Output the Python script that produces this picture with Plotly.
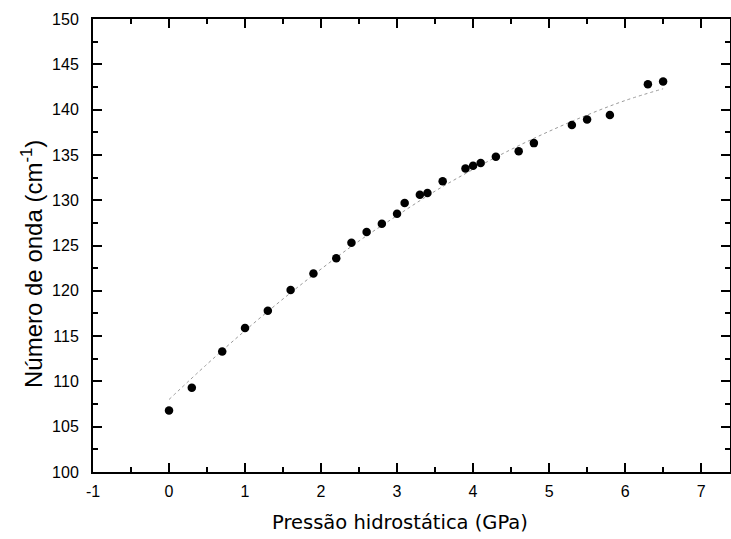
import numpy as np
import plotly.graph_objects as go

pressure = [0.0, 0.3, 0.7, 1.0, 1.3, 1.6, 1.9, 2.2, 2.4, 2.6, 2.8, 3.0, 3.1, 3.3, 3.4,
            3.6, 3.9, 4.0, 4.1, 4.3, 4.6, 4.8, 5.3, 5.5, 5.8, 6.3, 6.5]
wavenumber = [106.8, 109.3, 113.3, 115.9, 117.8, 120.1, 121.9, 123.6, 125.3, 126.5, 127.4,
              128.5, 129.7, 130.6, 130.8, 132.1, 133.5, 133.8, 134.1, 134.8, 135.4, 136.3,
              138.3, 138.9, 139.4, 142.8, 143.1]

# dotted fit curve
fit_x = [0.0, 0.5, 1.0, 1.5, 2.0, 2.5, 3.0, 3.5, 4.0, 4.5, 5.0, 5.5, 6.0, 6.5]
fit_y = [108.0, 111.9, 115.6, 119.1, 122.4, 125.5, 128.3, 131.0, 133.4, 135.6, 137.6,
         139.4, 141.0, 142.3]

x_ticks = [-1, 0, 1, 2, 3, 4, 5, 6, 7]
x_labels = ["-1", "0", "1", "2", "3", "4", "5", "6", "7"]

fig = go.Figure()
fig.add_trace(go.Scatter(x=fit_x, y=fit_y, mode="lines", line_shape="spline",
                         line=dict(color="#9a9a9a", width=1, dash="dot"), hoverinfo="skip"))
fig.add_trace(go.Scatter(x=pressure, y=wavenumber, mode="markers",
                         marker=dict(color="black", size=8.5)))

axis_common = dict(showgrid=False, zeroline=False, showline=True, linecolor="black",
                   linewidth=2, mirror="ticks", ticks="inside", ticklen=9, tickwidth=1.5,
                   tickcolor="black", automargin=False,
                   tickfont=dict(family="Liberation Sans, Arial", size=16, color="black"))

fig.update_xaxes(range=[-1, 7.38], tickmode="array", tickvals=x_ticks, ticktext=x_labels,
                 minor=dict(ticks="inside", dtick=0.5, tick0=-1, ticklen=5, tickwidth=1.5,
                            tickcolor="black"),
                 ticklabelstandoff=4, **axis_common)
fig.update_yaxes(range=[100, 150], dtick=5,
                 minor=dict(ticks="inside", dtick=2.5, ticklen=5, tickwidth=1.5, tickcolor="black"),
                 ticklabelstandoff=9, **axis_common)

# axis titles as annotations (the originals sit a little off-centre)
fig.add_annotation(text="Pressão hidrostática (GPa)", xref="paper", yref="paper",
                   x=(400 - 93) / 637, y=-(522 - 472) / 453, xanchor="center", yanchor="middle",
                   showarrow=False, font=dict(family="DejaVu Sans", size=19.5, color="black"))
fig.add_annotation(text="Número de onda (cm<sup>-1</sup>)", xref="paper", yref="paper",
                   x=-(93 - 32) / 637, y=(472 - 264) / 453, xanchor="center", yanchor="middle",
                   textangle=-90, showarrow=False,
                   font=dict(family="Liberation Sans, Arial", size=24, color="black"))

fig.update_layout(width=731, height=539, showlegend=False,
                  plot_bgcolor="white", paper_bgcolor="white",
                  margin=dict(l=93, r=1, t=19, b=67))
# drop the page's default body margin so the figure fills the window exactly
fig.write_html("out.html", config={"displayModeBar": False},
               post_script="document.body.style.margin='0';document.body.style.overflow='hidden';")
